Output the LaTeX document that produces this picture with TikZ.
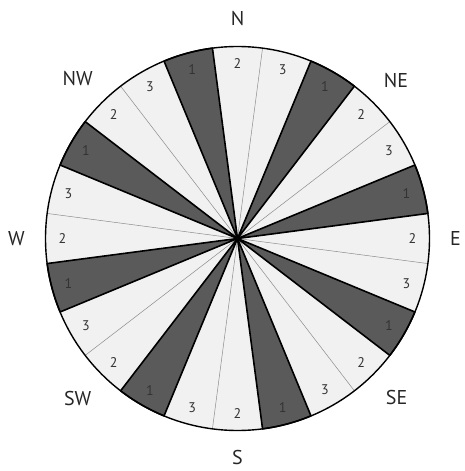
\documentclass[tikz,border=0pt]{standalone}
\usepackage{fontspec}
\setmainfont{PT Sans}
\usetikzlibrary{calc}

\definecolor{sectordark}{HTML}{5A5A5A}
\definecolor{sectorlight}{HTML}{F1F1F1}

\tikzset{
  digit/.style={text=black!80, font=\fontsize{14}{16}\selectfont},
  compass/.style={text=black!85, font=\fontsize{20}{24}\selectfont}
}

\begin{document}
\begin{tikzpicture}[x=1pt,y=1pt]
      \useasboundingbox (-237.5,-232.5) rectangle (226.5,238.5);

      \fill [sectorlight] (0,0) circle [radius=192];

      % thin dividers between light sectors
      \foreach \k in {0,...,23}
        \draw [black!45, line width=0.5pt] (0,0) -- ({97.5-15*\k}:192);

      % dark sectors (the ones numbered 1)
      \foreach \k in {2,5,...,23}
        \draw [fill=sectordark, line width=1.6pt, line join=round]
          (0,0) -- ({82.5-15*\k}:192)
          arc [start angle={82.5-15*\k}, end angle={97.5-15*\k}, radius=192] -- cycle;

      \draw [line width=1.4pt] (0,0) circle [radius=192];

      % sector numbers
      \foreach \k in {0,...,23} {
        \pgfmathtruncatemacro\num{mod(\k+1,3)+1}
        \node [digit] (d\k) at ({90-15*\k}:175) {\num};
      }

      \node [compass] (N) at (90:220) {N};
      \node [compass] (NE) at (45:224) {NE};
      \node [compass] (E) at (0:218) {E};
      \node [compass] (SE) at (-45:225) {SE};
      \node [compass] (S) at (-90:219) {S};
      \node [compass] (SW) at (-135:226) {SW};
      \node [compass] (W) at (180:221) {W};
      \node [compass] (NW) at (135:226) {NW};

  \end{tikzpicture}
\end{document}
